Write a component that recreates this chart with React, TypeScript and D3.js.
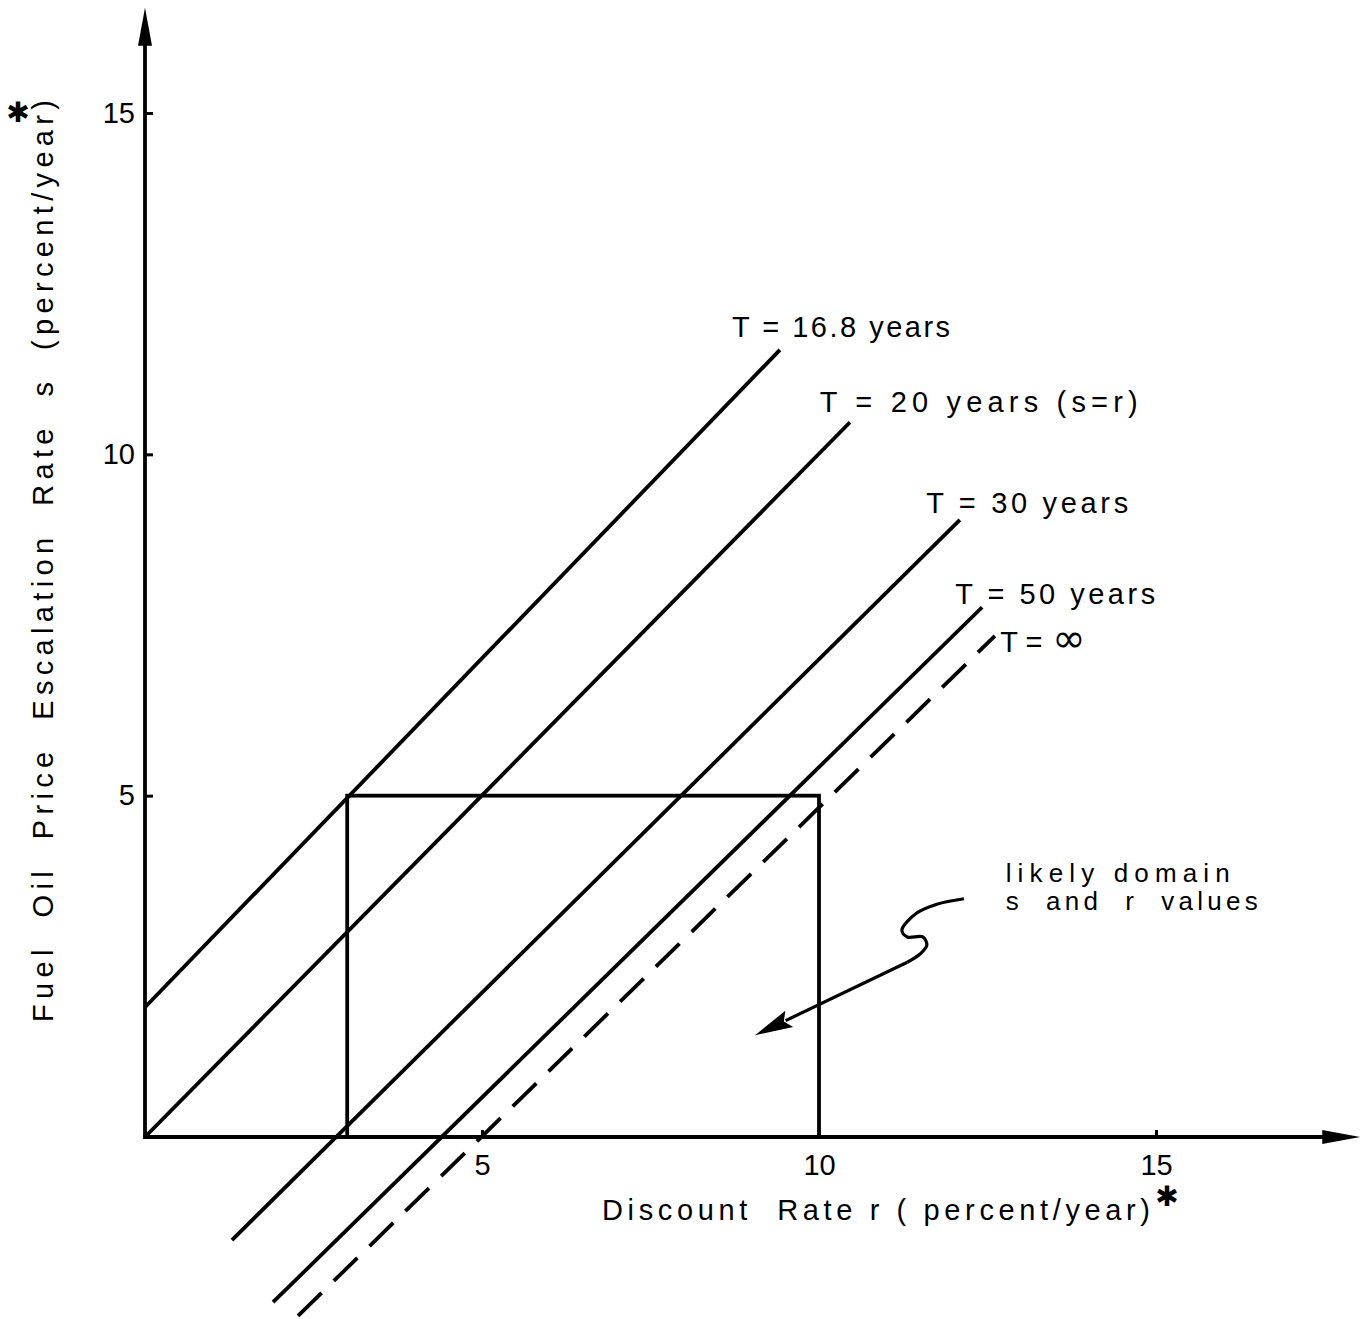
import React, { useEffect, useRef } from "react";
import * as d3 from "d3";

const WIDTH = 1367;
const HEIGHT = 1319;

// axis extents, percent/year
const rExtent = [0, 18.03];
const sExtent = [0, 16.54];
const tickValues = [5, 10, 15];

// break-even lines, [r, s] end points
const lineNames = ["T = 16.8 years", "T = 20 years (s=r)", "T = 30 years", "T = 50 years", "T = "];
const lineStarts = [[0, 1.9], [0, 0], [1.29, -1.51], [1.9, -2.42], [2.27, -2.62]];
const lineEnds = [[9.42, 11.53], [10.46, 10.47], [12.09, 9.04], [12.42, 7.76], [12.61, 7.34]];
const lineDashed = [false, false, false, false, true];

// likely domain box
const boxR = [3, 10];
const boxS = [0, 5];
const noteLines = ["likely domain", "s  and  r  values"];

// hand drawn pointer, [r, s]
const squiggle = [
	[12.15, 3.49], [11.75, 3.41], [11.45, 3.28], [11.23, 3.03], [11.31, 2.93],
	[11.54, 2.93], [11.6, 2.81], [11.5, 2.68], [11.31, 2.56]
];
const pointerTip = [9.05, 1.49];

const xLabel = "Discount  Rate r ( percent/year)";
const yLabel = "Fuel  Oil  Price  Escalation  Rate  s  (percent/year)";

// label placement (data units) and widths
const labelPos = [[8.71, 11.72], [10.01, 10.62], [11.59, 9.14], [12.02, 7.81], [12.69, 7.1]];
const labelLen = [218, 318, 202, 200, 50];
const notePos = [[12.77, 3.73], [12.77, 3.33]];
const noteLen = [224, 252];

const FONT = "'Liberation Sans', Arial, Helvetica, sans-serif";

export default function App() {
	const ref = useRef(null);

	useEffect(() => {
		const svg = d3.select(ref.current);
		svg.selectAll("*").remove();

		const x = d3.scaleLinear().domain([0, 1]).range([145, 212.4]);
		const y = d3.scaleLinear().domain([0, 15]).range([1137, 113]);

		svg.append("rect").attr("width", WIDTH).attr("height", HEIGHT).attr("fill", "#fff");

		const g = svg.append("g").attr("fill", "none").attr("stroke", "#000").attr("stroke-width", 3.8);

		// axes
		g.append("line")
			.attr("x1", x(0) - 2).attr("x2", x(rExtent[1]) - 30)
			.attr("y1", y(0)).attr("y2", y(0));
		g.append("line")
			.attr("x1", x(0)).attr("x2", x(0))
			.attr("y1", y(0)).attr("y2", y(sExtent[1]) + 30);
		const ax = x(rExtent[1]), ay = y(0);
		svg.append("path")
			.attr("d", `M${ax},${ay} L${ax - 38},${ay - 7} L${ax - 38},${ay + 7} Z`)
			.attr("fill", "#000");
		const bx = x(0), by = y(sExtent[1]);
		svg.append("path")
			.attr("d", `M${bx},${by} L${bx - 7},${by + 38} L${bx + 7},${by + 38} Z`)
			.attr("fill", "#000");

		const xAxis = svg.append("g")
			.attr("transform", `translate(0,${y(0)})`)
			.call(d3.axisBottom(x).tickValues(tickValues).tickSize(-7).tickPadding(17).tickFormat(d3.format("d")));
		const yAxis = svg.append("g")
			.attr("transform", `translate(${x(0)},0)`)
			.call(d3.axisLeft(y).tickValues(tickValues).tickSize(-8).tickPadding(10).tickFormat(d3.format("d")));
		[xAxis, yAxis].forEach((a) => {
			a.select(".domain").remove();
			a.selectAll("line").attr("stroke", "#000").attr("stroke-width", 3);
			a.selectAll("text").attr("font-family", FONT).attr("font-size", 29).attr("fill", "#000");
		});

		// box
		g.append("rect")
			.attr("x", x(boxR[0])).attr("y", y(boxS[1]))
			.attr("width", x(boxR[1]) - x(boxR[0]))
			.attr("height", y(boxS[0]) - y(boxS[1]));

		// T lines
		const line = d3.line().x((d) => x(d[0])).y((d) => y(d[1]));
		lineNames.forEach((name, i) => {
			g.append("path")
				.attr("d", line([lineStarts[i], lineEnds[i]]))
				.attr("stroke-dasharray", lineDashed[i] ? "33 17" : null);
			const t = svg.append("text")
				.attr("x", x(labelPos[i][0])).attr("y", y(labelPos[i][1]))
				.attr("font-family", FONT).attr("font-size", 29)
				.style("white-space", "pre");
			t.append("tspan")
				.attr("textLength", labelLen[i]).attr("lengthAdjust", "spacing")
				.text(name);
			if (lineDashed[i]) {
				t.append("tspan").attr("dx", 2).attr("font-size", 40).attr("font-family", "'DejaVu Sans', sans-serif").text("∞");
			}
		});

		// note
		noteLines.forEach((t, i) => {
			svg.append("text")
				.attr("x", x(notePos[i][0])).attr("y", y(notePos[i][1]))
				.attr("textLength", noteLen[i]).attr("lengthAdjust", "spacing")
				.attr("font-family", FONT).attr("font-size", 26)
				.style("white-space", "pre")
				.text(t);
		});

		// pointer
		const curve = d3.line().x((d) => x(d[0])).y((d) => y(d[1])).curve(d3.curveCatmullRom);
		g.append("path").attr("d", curve(squiggle)).attr("stroke-width", 3.2);
		const last = squiggle[squiggle.length - 1];
		const px = x(pointerTip[0]), py = y(pointerTip[1]);
		const ang = Math.atan2(py - y(last[1]), px - x(last[0]));
		const hl = 38, hw = 9;
		const baseX = px - hl * Math.cos(ang), baseY = py - hl * Math.sin(ang);
		g.append("line")
			.attr("x1", x(last[0])).attr("y1", y(last[1]))
			.attr("x2", baseX + 4 * Math.cos(ang)).attr("y2", baseY + 4 * Math.sin(ang))
			.attr("stroke-width", 3.2);
		svg.append("path")
			.attr("d", `M${px},${py} L${baseX - hw * Math.sin(ang)},${baseY + hw * Math.cos(ang)} L${baseX + 6 * Math.cos(ang)},${baseY + 6 * Math.sin(ang)} L${baseX + hw * Math.sin(ang)},${baseY - hw * Math.cos(ang)} Z`)
			.attr("fill", "#000");

		// axis titles
		svg.append("text")
			.attr("x", 602).attr("y", 1220)
			.attr("textLength", 548).attr("lengthAdjust", "spacing")
			.attr("font-family", FONT).attr("font-size", 29)
			.style("white-space", "pre")
			.text(xLabel);
		svg.append("text")
			.attr("transform", "translate(53,1022) rotate(-90)")
			.attr("textLength", 922).attr("lengthAdjust", "spacing")
			.attr("font-family", FONT).attr("font-size", 29)
			.style("white-space", "pre")
			.text(yLabel);

		// footnote stars
		[[1167, 1196], [18, 112]].forEach(([cx, cy]) => {
			svg.append("text")
				.attr("x", cx).attr("y", cy)
				.attr("text-anchor", "middle").attr("dominant-baseline", "central")
				.attr("font-family", "'DejaVu Sans', sans-serif").attr("font-size", 28)
				.text("✱");
		});
	}, []);

	return (
		<svg
			ref={ref}
			width={WIDTH}
			height={HEIGHT}
			style={{ position: "absolute", left: 0, top: 0 }}
		/>
	);
}
